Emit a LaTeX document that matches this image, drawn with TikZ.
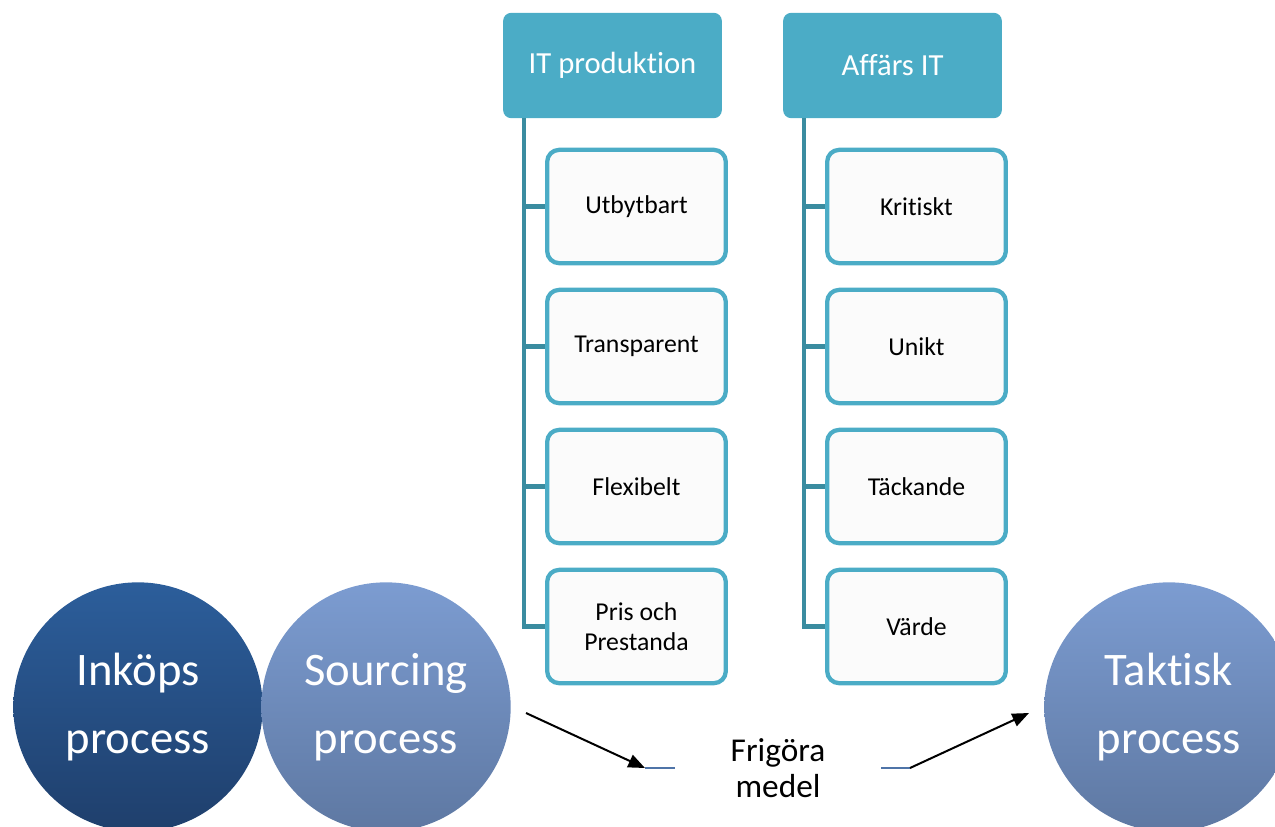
\documentclass[tikz,border=0pt]{standalone}
\usepackage{fontspec}
\setmainfont{Carlito}[RawFeature={-liga;-calt}]
\usetikzlibrary{arrows.meta}
\definecolor{tealhead}{RGB}{75,172,198}
\definecolor{tealline}{RGB}{58,140,160}
\definecolor{navytop}{RGB}{44,94,155}
\definecolor{navybot}{RGB}{31,63,108}
\definecolor{bluetop}{RGB}{124,156,209}
\definecolor{bluebot}{RGB}{94,120,162}
\definecolor{stubblue}{RGB}{79,116,168}

\tikzset{
    header/.style={rectangle, rounded corners=6pt, fill=tealhead, text=white,
        minimum width=164pt, minimum height=79pt, font=\fontsize{23}{28}\selectfont},
    item/.style={rectangle, rounded corners=9pt, draw=tealhead, line width=3.2pt,
        fill=white!98.5!black, minimum width=134pt, minimum height=85pt, align=center,
        font=\fontsize{19.3}{22}\selectfont},
    tree/.style={tealline, line width=3.6pt},
    proc/.style={circle, minimum size=187pt, text=white, align=center,
        font=\fontsize{35}{51}\selectfont},
    arr/.style={black, line width=1.5pt, -{Triangle[length=12.5pt,width=10pt]}},
    stub/.style={stubblue, line width=2pt},
}

\begin{document}
\begin{tikzpicture}[x=0.75pt,y=-0.75pt]
    \clip (0,0) rectangle (1275,826);

    % two columns
    \node[header] (prod) at (612.5,65.5) {IT produktion};
    \node[header] (aff) at (892.5,65.5) {Affärs IT};
    \foreach \t [count=\i] in {Utbytbart, Transparent, Flexibelt, {Pris och\\Prestanda}}
        \node[item] (prod\i) at (636.5,66.5+140*\i) {\t};
    \foreach \t [count=\i] in {Kritiskt, Unikt, Täckande, Värde}
        \node[item] (aff\i) at (916.5,66.5+140*\i) {\t};
    \foreach \i in {1,...,4} {
        \draw[tree] (prod.south west) ++(21,0) |- (prod\i.west);
        \draw[tree] (aff.south west) ++(21,0) |- (aff\i.west);
    }

    % processes
    \node[proc, top color=navytop, bottom color=navybot] (inkop) at (138,707) {Inköps\\process};
    \node[proc, top color=bluetop, bottom color=bluebot] (sourcing) at (386,707) {Sourcing\\process};
    \node[proc, top color=bluetop, bottom color=bluebot] (taktisk) at (1169,707) {Taktisk\\process};

    \node[align=center, font=\fontsize{25}{27}\selectfont] (frigor) at (778,768) {Frigöra\\medel};
    \coordinate (a1) at (526,713);
    \coordinate (a2) at (645,768);
    \coordinate (a3) at (675,768);
    \coordinate (b1) at (881,768);
    \coordinate (b2) at (910,768);
    \coordinate (b3) at (1029,713);
    \draw[arr] (a1) -- (a2);
    \draw[stub] (a2) -- (a3);
    \draw[stub] (b1) -- (b2);
    \draw[arr] (b2) -- (b3);
\end{tikzpicture}
\end{document}
